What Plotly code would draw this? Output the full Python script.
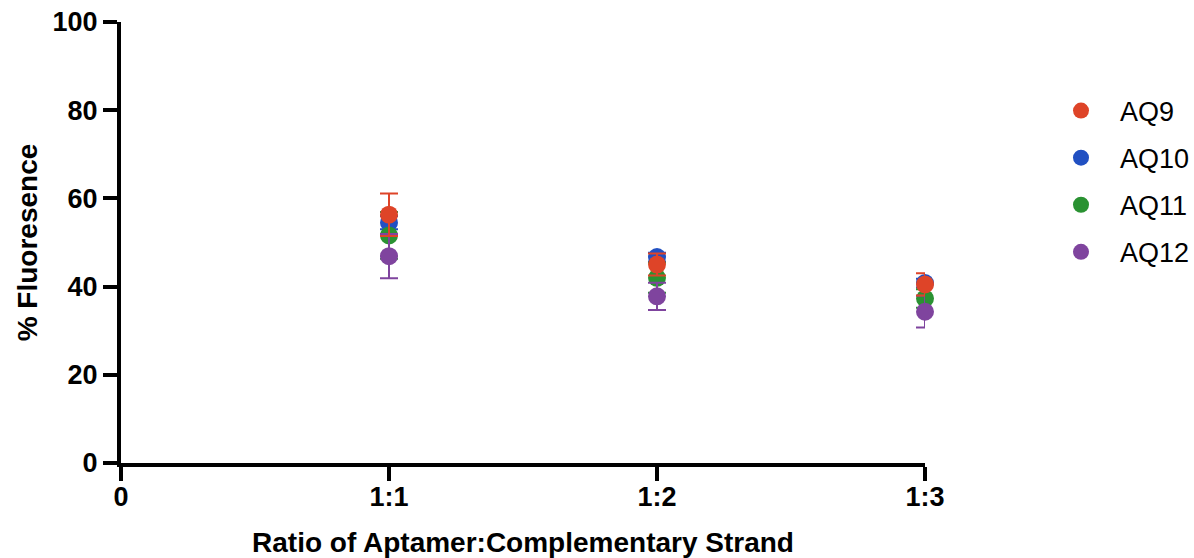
import plotly.graph_objects as go

categories = ["0", "1:1", "1:2", "1:3"]
x_positions = [1, 2, 3]
series_names = ["AQ9", "AQ10", "AQ11", "AQ12"]
aq9 = [56.3, 45.0, 40.5]
aq9_err = [4.8, 2.5, 2.5]
aq10 = [54.5, 46.7, 40.8]
aq10_err = [1.5, 1.0, 1.0]
aq11 = [51.6, 42.0, 37.3]
aq11_err = [5.3, 3.4, 2.1]
aq12 = [46.9, 37.8, 34.3]
aq12_err = [5.0, 3.1, 3.6]
colors = {"AQ9": "#DE4428", "AQ10": "#2150C2", "AQ11": "#2A9232", "AQ12": "#7F449E"}

data = {"AQ9": (aq9, aq9_err), "AQ10": (aq10, aq10_err),
        "AQ11": (aq11, aq11_err), "AQ12": (aq12, aq12_err)}
draw_order = ["AQ10", "AQ11", "AQ12", "AQ9"]

FONT = "Liberation Sans, Arial, sans-serif"
fig = go.Figure()
for name in draw_order:
    vals, errs = data[name]
    fig.add_trace(go.Scatter(
        x=x_positions, y=vals, mode="markers", name=name,
        legendrank=series_names.index(name) + 1,
        legendgroup=name,
        cliponaxis=False,
        marker=dict(size=18, color=colors[name]),
        error_y=dict(type="data", array=errs, visible=True, color=colors[name],
                     thickness=2, width=9),
    ))

fig.update_layout(
    width=1194, height=558,
    margin=dict(l=121, r=269, t=22, b=95),
    plot_bgcolor="white", paper_bgcolor="white",
    font=dict(family=FONT, color="black"),
    legend=dict(xref="container", yref="container", x=0.8727, y=0.845,
                xanchor="left", yanchor="top",
                font=dict(size=27, family=FONT), tracegroupgap=9,
                bgcolor="rgba(0,0,0,0)", itemwidth=68),
    xaxis=dict(range=[0, 3], tickvals=[0, 1, 2, 3], ticktext=categories,
               automargin=False, ticklabelstandoff=-7,
               showgrid=False, zeroline=False, showline=True, linewidth=4,
               linecolor="black", ticks="outside", ticklen=14, tickwidth=4,
               tickcolor="black",
               tickfont=dict(size=27, family=FONT, weight="bold"),
               title=dict(text="Ratio of Aptamer:Complementary Strand",
                          font=dict(size=28, family=FONT, weight="bold"),
                          standoff=22)),
    yaxis=dict(range=[0, 100], tickvals=[0, 20, 40, 60, 80, 100],
               automargin=False,
               showgrid=False, zeroline=False, showline=True, linewidth=4,
               linecolor="black", ticks="outside", ticklen=14, tickwidth=4,
               tickcolor="black",
               tickfont=dict(size=27, family=FONT, weight="bold"),
               title=dict(text="% Fluoresence",
                          font=dict(size=28, family=FONT, weight="bold"),
                          standoff=8)),
)

fig.write_html("out.html")
